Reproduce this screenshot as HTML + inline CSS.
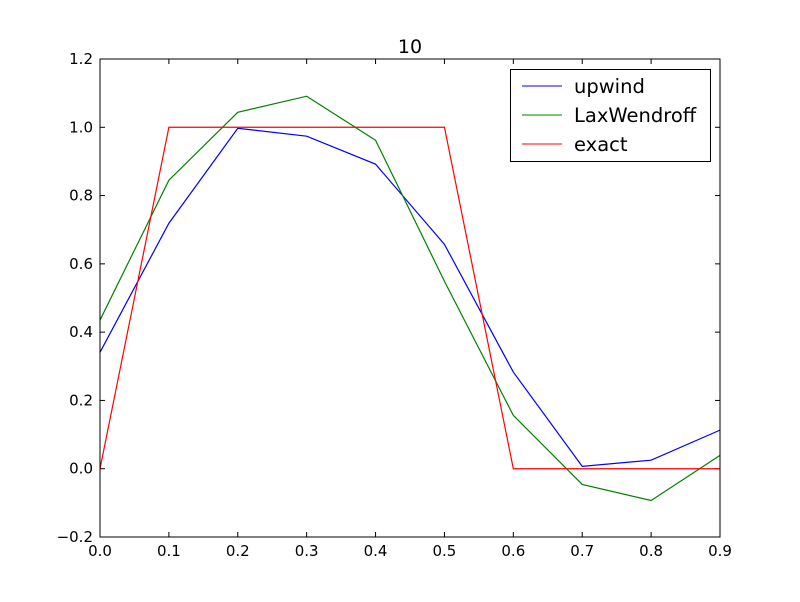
<!DOCTYPE html>
<html><head><meta charset="utf-8"><style>
body{margin:0;background:#fff}
svg{font-family:"DejaVu Sans","Liberation Sans",sans-serif}
</style></head><body>
<svg id="c" width="800" height="597" viewBox="0 0 800 597">
<rect width="800" height="597" fill="#fff"/>
<text x="410" y="53" font-size="19" text-anchor="middle">10</text>
<g id="plot"></g>
<rect x="100" y="59" width="620" height="478" fill="none" stroke="#000" stroke-width="1"/>
<g>
<rect x="510.5" y="69.5" width="200" height="92" fill="#fff" stroke="#000"/>
<line x1="522" y1="86" x2="562" y2="86" stroke="#0000ff"/>
<text x="574" y="93" font-size="19.5">upwind</text>
<line x1="522" y1="115" x2="562" y2="115" stroke="#008000"/>
<text x="574" y="122" font-size="19.5">LaxWendroff</text>
<line x1="522" y1="144" x2="562" y2="144" stroke="#ff0000"/>
<text x="574" y="151" font-size="19.5">exact</text>
</g>
</svg>
<script>
const xs=[0,0.1,0.2,0.3,0.4,0.5,0.6,0.7,0.8,0.9];
const upwind=[0.341,0.719,0.997,0.974,0.892,0.657,0.283,0.007,0.025,0.113];
const lax=[0.435,0.845,1.044,1.091,0.962,0.549,0.156,-0.046,-0.093,0.039];
const exact=[0,1,1,1,1,1,0,0,0,0];
const xTicks=[0,0.1,0.2,0.3,0.4,0.5,0.6,0.7,0.8,0.9];
const yTicks=[-0.2,0,0.2,0.4,0.6,0.8,1.0,1.2];
const NS="http://www.w3.org/2000/svg";
const X=v=>100+v/0.9*620;
const Y=v=>537-(v+0.2)/1.4*478;
const g=document.getElementById('plot');
function mk(t,a){const e=document.createElementNS(NS,t);for(const k in a)e.setAttribute(k,a[k]);g.appendChild(e);return e;}
xTicks.forEach(v=>{
 const x=X(v);
 let l=mk('line',{x1:x,x2:x,y1:537,y2:532,stroke:'#000'});
 
 
 l=mk('line',{x1:x,x2:x,y1:59,y2:64,stroke:'#000'});
 
 
 const t=mk('text',{x:x,y:556,'font-size':15,'text-anchor':'middle'});
 t.textContent=v.toFixed(1);
 
 
});
yTicks.forEach(v=>{
 const y=Y(v);
 let l=mk('line',{x1:100,x2:105,y1:y,y2:y,stroke:'#000'});
 
 
 l=mk('line',{x1:715,x2:720,y1:y,y2:y,stroke:'#000'});
 
 
 const t=mk('text',{x:93,y:y+5,'font-size':15,'text-anchor':'end'});
 t.textContent=(v<0?'\u2212':'')+Math.abs(v).toFixed(1);
 
 
});
function line(d,c,n){
 const p=mk('polyline',{points:d.map((v,i)=>X(xs[i])+','+Y(v)).join(' '),fill:'none',stroke:c,'stroke-width':1.2});
 
 
}
line(upwind,'#0000ff','upwind-line');
line(lax,'#008000','laxwendroff-line');
line(exact,'#ff0000','exact-line');
</script>
</body></html>
